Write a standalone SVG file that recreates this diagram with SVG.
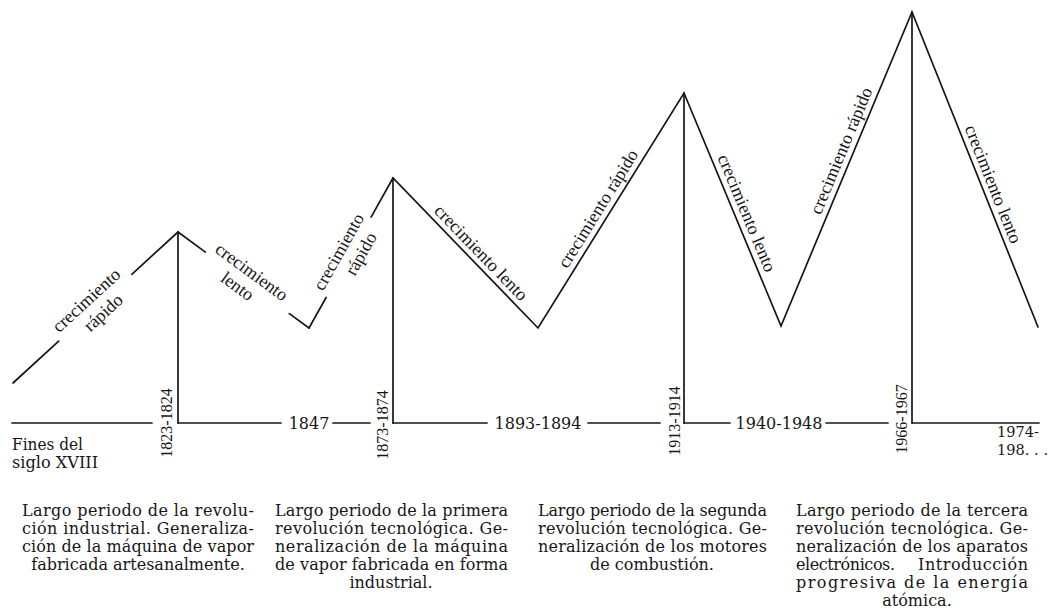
<svg xmlns="http://www.w3.org/2000/svg" width="1052" height="610" viewBox="0 0 1052 610">
<style>
  .ln { stroke:#161616; stroke-width:1.7; fill:none; stroke-linecap:round; stroke-linejoin:miter; }
  .lab { font-family:"Liberation Serif","Times New Roman",serif; font-size:18px; fill:#161616; text-anchor:middle; }
  .vd { font-family:"Liberation Serif","Times New Roman",serif; font-size:16px; fill:#161616; text-anchor:middle; }
  .hd { font-family:"DejaVu Serif","Liberation Serif",serif; font-size:16px; fill:#161616; text-anchor:middle; }
  .p { font-family:"DejaVu Serif","Liberation Serif",serif; font-size:16px; fill:#161616; }
  .pc { font-family:"DejaVu Serif","Liberation Serif",serif; font-size:16px; fill:#161616; text-anchor:middle; }
  .sm { font-family:"DejaVu Serif","Liberation Serif",serif; font-size:14.5px; fill:#161616; }
</style>
<rect width="1052" height="610" fill="#ffffff"/>

<g id="connectors">
  <!-- zigzag growth curve -->
  <line class="ln" x1="13" y1="383" x2="58.7" y2="341.1"/>
  <line class="ln" x1="131.8" y1="274.3" x2="178" y2="232"/>
  <line class="ln" x1="178" y1="232" x2="205.4" y2="252.1"/>
  <line class="ln" x1="289.3" y1="313.6" x2="309" y2="328"/>
  <line class="ln" x1="309" y1="328" x2="326.1" y2="297.5"/>
  <polyline class="ln" points="371.1,217.2 393,178 538,328 684,93 781,326 912,12 1038,327"/>
  <!-- verticals at peaks -->
  <line class="ln" x1="178" y1="232" x2="178" y2="423"/>
  <line class="ln" x1="393" y1="178" x2="393" y2="423"/>
  <line class="ln" x1="684" y1="93" x2="684" y2="423"/>
  <line class="ln" x1="912" y1="12" x2="912" y2="423"/>
  <!-- time axis -->
  <line class="ln" x1="12" y1="423" x2="152" y2="423"/>
  <line class="ln" x1="178" y1="423" x2="281" y2="423"/>
  <line class="ln" x1="333" y1="423" x2="370" y2="423"/>
  <line class="ln" x1="393" y1="423" x2="487" y2="423"/>
  <line class="ln" x1="588" y1="423" x2="660" y2="423"/>
  <line class="ln" x1="684" y1="423" x2="730" y2="423"/>
  <line class="ln" x1="826" y1="423" x2="888" y2="423"/>
  <line class="ln" x1="912" y1="423" x2="1039" y2="423"/>
</g>

<g id="growth-labels">
  <g id="lab1" transform="translate(94.1,308.7) rotate(-42.46)">
    <text class="lab" x="0" y="-5.5">crecimiento</text>
    <text class="lab" x="4" y="15">rápido</text>
  </g>
  <g id="lab2" transform="translate(244.9,281.1) rotate(36.23)">
    <text class="lab" x="0" y="-5.5">crecimiento</text>
    <text class="lab" x="-3" y="14.5">lento</text>
  </g>
  <g id="lab3" transform="translate(348.6,257.3) rotate(-60.75)">
    <text class="lab" x="0" y="-5.5">crecimiento</text>
    <text class="lab" x="9" y="15">rápido</text>
  </g>
  <g id="lab4" transform="translate(472.9,260.7) rotate(45.97)">
    <text class="lab" x="0" y="-5.5">crecimiento lento</text>
  </g>
  <g id="lab5" transform="translate(608.2,215) rotate(-58.15)">
    <text class="lab" x="0" y="-6">crecimiento rápido</text>
  </g>
  <g id="lab6" transform="translate(735.9,217.6) rotate(67.4)">
    <text class="lab" x="0" y="-6">crecimiento lento</text>
  </g>
  <g id="lab7" transform="translate(852.2,155.2) rotate(-67.36)">
    <text class="lab" x="0" y="-6">crecimiento rápido</text>
  </g>
  <g id="lab8" transform="translate(982.6,188.4) rotate(68.2)">
    <text class="lab" x="0" y="-5.5">crecimiento lento</text>
  </g>
</g>

<g id="dates">
  <text class="vd" transform="translate(172,423) rotate(-90)">1823-1824</text>
  <text class="vd" transform="translate(388,425) rotate(-90)">1873-1874</text>
  <text class="vd" transform="translate(680,421) rotate(-90)">1913-1914</text>
  <text class="vd" transform="translate(907,419) rotate(-90)">1966-1967</text>
  <text class="hd" x="309" y="429">1847</text>
  <text class="hd" x="538" y="429">1893-1894</text>
  <text class="hd" x="779" y="429">1940-1948</text>
  <text class="sm" x="997" y="437">1974-</text>
  <text class="sm" x="997" y="455" textLength="51" lengthAdjust="spacing">198. . .</text>
  <text class="p" x="12" y="450" textLength="71" lengthAdjust="spacingAndGlyphs">Fines del</text>
  <text class="p" x="12" y="468" textLength="86" lengthAdjust="spacingAndGlyphs">siglo XVIII</text>
</g>

<g id="period1">
  <text class="p" x="22" y="516" textLength="232" lengthAdjust="spacing">Largo periodo de la revolu-</text>
  <text class="p" x="22" y="534" textLength="232" lengthAdjust="spacing">ción industrial. Generaliza-</text>
  <text class="p" x="22" y="552" textLength="232" lengthAdjust="spacing">ción de la máquina de vapor</text>
  <text class="pc" x="138" y="570">fabricada artesanalmente.</text>
</g>
<g id="period2">
  <text class="p" x="275" y="516" textLength="233" lengthAdjust="spacing">Largo periodo de la primera</text>
  <text class="p" x="275" y="534" textLength="233" lengthAdjust="spacing">revolución tecnológica. Ge-</text>
  <text class="p" x="275" y="552" textLength="233" lengthAdjust="spacing">neralización de la máquina</text>
  <text class="p" x="275" y="570" textLength="233" lengthAdjust="spacing">de vapor fabricada en forma</text>
  <text class="pc" x="391" y="588">industrial.</text>
</g>
<g id="period3">
  <text class="p" x="538" y="516" textLength="229" lengthAdjust="spacing">Largo periodo de la segunda</text>
  <text class="p" x="538" y="534" textLength="229" lengthAdjust="spacing">revolución tecnológica. Ge-</text>
  <text class="p" x="538" y="552" textLength="229" lengthAdjust="spacing">neralización de los motores</text>
  <text class="pc" x="652" y="570">de combustión.</text>
</g>
<g id="period4">
  <text class="p" x="796" y="516" textLength="232" lengthAdjust="spacing">Largo periodo de la tercera</text>
  <text class="p" x="796" y="534" textLength="232" lengthAdjust="spacing">revolución tecnológica. Ge-</text>
  <text class="p" x="796" y="552" textLength="232" lengthAdjust="spacing">neralización de los aparatos</text>
  <text class="p" x="796" y="570" textLength="99" lengthAdjust="spacing">electrónicos.</text>
  <text class="p" x="918" y="570" textLength="110" lengthAdjust="spacing">Introducción</text>
  <text class="p" x="796" y="588" textLength="232" lengthAdjust="spacing">progresiva de la energía</text>
  <text class="pc" x="917" y="606">atómica.</text>
</g>
</svg>
